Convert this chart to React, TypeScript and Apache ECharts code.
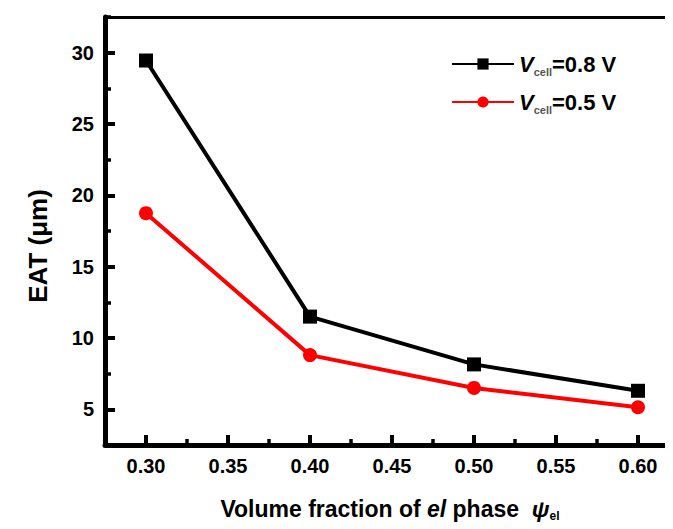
import React, { useEffect, useRef } from "react";
import * as echarts from "echarts";

const volumeFractions = [0.3, 0.4, 0.5, 0.6];
const eat08 = [29.45, 11.5, 8.15, 6.3];
const eat05 = [18.75, 8.8, 6.5, 5.15];
const seriesNames = ["0.8", "0.5"];

const FONT = "'Liberation Sans', Arial, Helvetica, sans-serif";

export default function App() {
  const ref = useRef<HTMLDivElement>(null);
  useEffect(() => {
    if (!ref.current) return;
    const chart = echarts.init(ref.current, null, { renderer: "svg" });
    const tickLabel = { fontSize: 20, fontWeight: "bold", color: "#000", fontFamily: FONT };
    const majorTick = { show: true, inside: true, length: 10, lineStyle: { color: "#000", width: 4 } };
    const minorTick = { show: true, inside: true, length: 6, lineStyle: { color: "#000", width: 3.5 } };
    chart.setOption({
      animation: false,
      backgroundColor: "#fff",
      grid: { left: 97, right: 2, top: 9, bottom: 92, show: false },
      legend: {
        orient: "vertical",
        left: 438,
        top: 40,
        padding: 5,
        itemWidth: 62,
        itemHeight: 14,
        itemGap: 14,
        data: seriesNames,
        formatter: (name: string) => `{v|V}{s|cell}{n|=${name} V}`,
        textStyle: {
          fontFamily: FONT,
          fontWeight: "bold",
          fontSize: 22,
          color: "#000",
          rich: {
            v: { fontSize: 22, fontStyle: "italic", fontWeight: "bold", fontFamily: FONT, color: "#000", lineHeight: 26 },
            s: { fontSize: 11, fontWeight: "bold", fontFamily: FONT, color: "#555", verticalAlign: "bottom", lineHeight: 12 },
            n: { fontSize: 22, fontWeight: "bold", fontFamily: FONT, color: "#000", lineHeight: 26 },
          },
        },
      },
      xAxis: [
        {
          type: "value",
          position: "bottom",
          min: 0.275,
          max: 0.625,
          splitNumber: 7,
          axisLine: { show: true, onZero: false, lineStyle: { color: "#000", width: 5 } },
          axisTick: majorTick,
          axisLabel: { ...tickLabel, margin: 11, showMinLabel: false, showMaxLabel: false, formatter: (v: number) => v.toFixed(2) },
          splitLine: { show: false },
        },
        {
          type: "value",
          position: "bottom",
          min: 0,
          max: 0.35,
          interval: 0.05,
          axisLine: { show: false, onZero: false },
          axisTick: minorTick,
          axisLabel: { show: false },
          splitLine: { show: false },
        },
        {
          type: "value",
          position: "top",
          min: 0,
          max: 1,
          axisLine: { show: true, onZero: false, lineStyle: { color: "#000", width: 3 } },
          axisTick: { show: false },
          axisLabel: { show: false },
          splitLine: { show: false },
        },
      ],
      yAxis: [
        {
          type: "value",
          position: "left",
          min: 2.5,
          max: 32.5,
          splitNumber: 6,
          axisLine: { show: true, onZero: false, lineStyle: { color: "#000", width: 5 } },
          axisTick: majorTick,
          axisLabel: { ...tickLabel, margin: 11, showMinLabel: false, showMaxLabel: false },
          splitLine: { show: false },
        },
        {
          type: "value",
          position: "left",
          min: 0,
          max: 30,
          interval: 5,
          axisLine: { show: false, onZero: false },
          axisTick: minorTick,
          axisLabel: { show: false },
          splitLine: { show: false },
        },
        {
          type: "value",
          position: "right",
          min: 0,
          max: 1,
          axisLine: { show: true, onZero: false, lineStyle: { color: "#333", width: 2 } },
          axisTick: { show: false },
          axisLabel: { show: false },
          splitLine: { show: false },
        },
      ],
      series: [
        {
          name: seriesNames[0],
          type: "line",
          xAxisIndex: 0,
          yAxisIndex: 0,
          data: volumeFractions.map((x, i) => [x, eat08[i]]),
          symbol: "rect",
          symbolSize: 14,
          color: "#000",
          lineStyle: { color: "#000", width: 4 },
          itemStyle: { color: "#000" },
        },
        {
          name: seriesNames[1],
          type: "line",
          xAxisIndex: 0,
          yAxisIndex: 0,
          data: volumeFractions.map((x, i) => [x, eat05[i]]),
          symbol: "circle",
          symbolSize: 14,
          color: "#ff0000",
          lineStyle: { color: "#ff0000", width: 4 },
          itemStyle: { color: "#ff0000" },
        },
      ],
      graphic: [
        {
          type: "text",
          x: 30,
          y: 238,
          rotation: Math.PI / 2,
          style: {
            text: "EAT (μm)",
            font: `bold 26px ${FONT}`,
            fill: "#000",
            align: "center",
            verticalAlign: "middle",
          },
        },
        {
          type: "text",
          x: 382,
          y: 501,
          style: {
            text: "{n|Volume fraction of }{i|el}{n| phase  }{i|ψ}{s|el}",
            font: `bold 23px ${FONT}`,
            fill: "#000",
            align: "center",
            verticalAlign: "middle",
            rich: {
              n: { fontSize: 23, fontWeight: "bold", fontFamily: FONT, fill: "#000", lineHeight: 26 },
              i: { fontSize: 23, fontWeight: "bold", fontStyle: "italic", fontFamily: FONT, fill: "#000", lineHeight: 26 },
              s: { fontSize: 12, fontWeight: "bold", fontFamily: FONT, fill: "#000", lineHeight: 12, verticalAlign: "bottom" },
            },
          },
        },
      ],
    });
    return () => chart.dispose();
  }, []);
  return <div ref={ref} style={{ width: 673, height: 529 }} />;
}
